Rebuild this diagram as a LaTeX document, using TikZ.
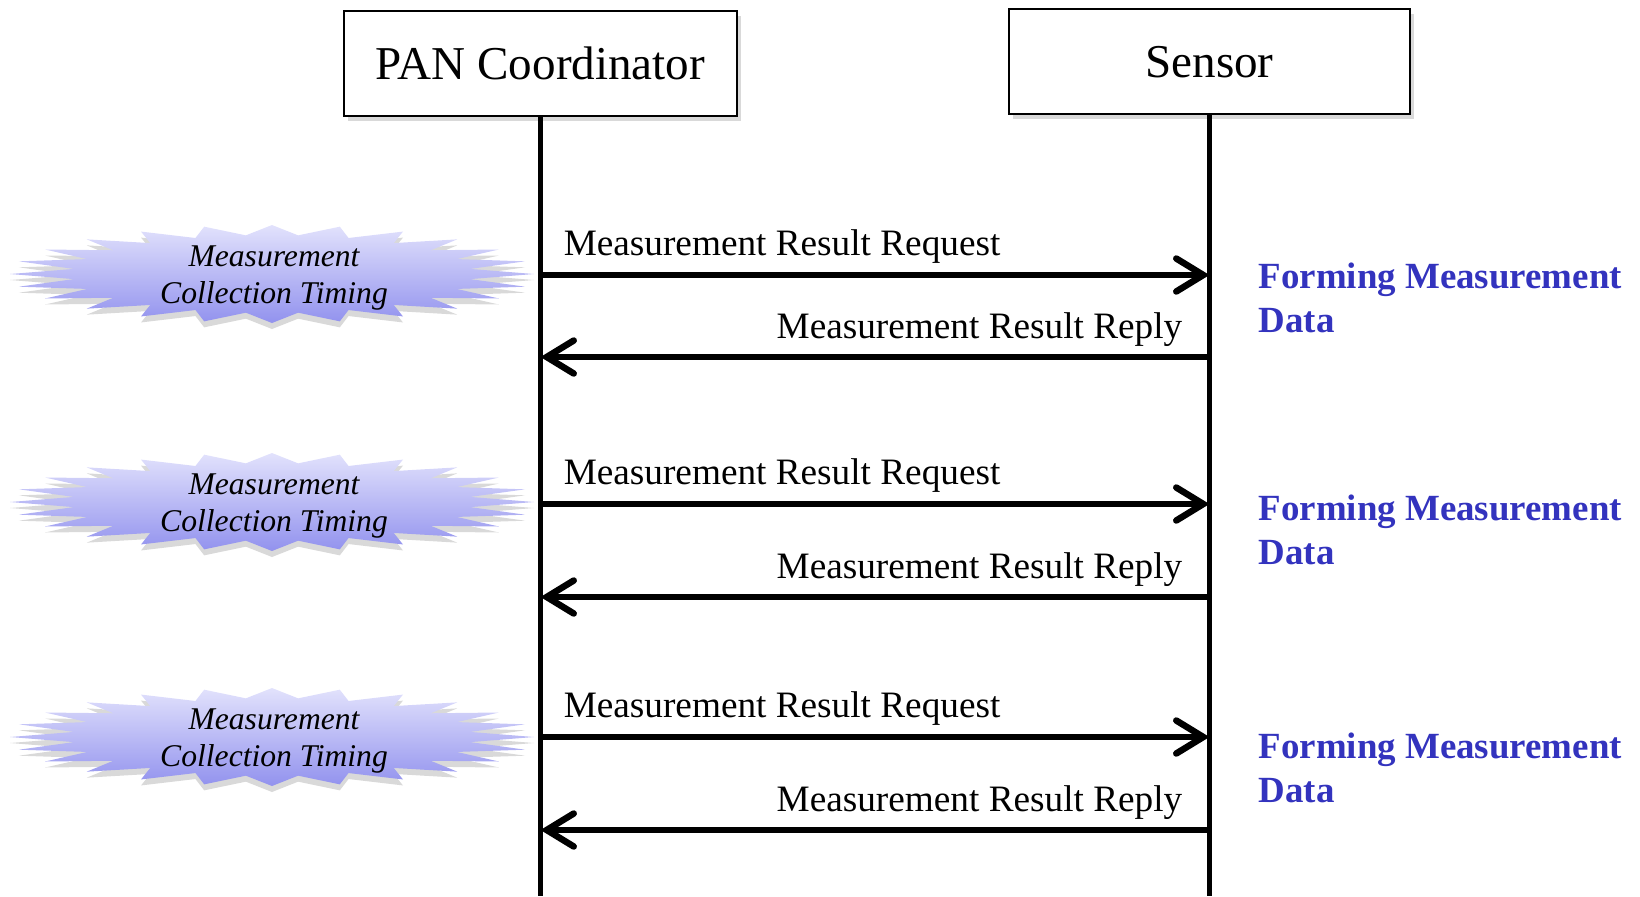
\documentclass[tikz,border=0pt]{standalone}
\usepackage{fontspec}
\setmainfont{Liberation Serif}
\usetikzlibrary{arrows.meta,shadows}

\definecolor{burstTop}{RGB}{226,226,252}
\definecolor{burstBot}{RGB}{146,146,238}
\definecolor{formBlue}{RGB}{51,51,190}

\tikzset{
  party/.style={draw, line width=0.2mm, fill=white, minimum height=10.45mm,
    font=\fontsize{13.4}{16}\selectfont,
    drop shadow={opacity=0.3, shadow xshift=0.4mm, shadow yshift=-0.5mm}},
  lifeline/.style={line width=0.5mm},
  msg/.style={line width=0.65mm, -{Straight Barb[length=2.7mm, width=3.3mm, line cap=round]}},
  msglabel/.style={font=\fontsize{10.6}{12.7}\selectfont, inner sep=0pt},
  burst/.style={top color=burstTop, bottom color=burstBot, draw=none,
    drop shadow={opacity=0.3, shadow xshift=0mm, shadow yshift=-0.6mm}},
  bursttext/.style={align=center, font=\fontsize{9}{10.8}\selectfont\itshape, inner sep=0pt},
  forming/.style={align=left, text=formBlue, font=\fontsize{10.5}{12.5}\selectfont\bfseries,
    inner sep=0pt, anchor=west}
}

% spiky star around a coordinate
\newcommand\tbBurst[1]{%
  \path[burst, shift={(#1)}] (262,0)
    \foreach \a in {15,30,...,345} {-- ({200*cos(\a-7.5)},{39*sin(\a-7.5)}) -- ({262*cos(\a)},{49*sin(\a)})}
    -- ({200*cos(352.5)},{39*sin(352.5)}) -- cycle;}

\begin{document}
\begin{tikzpicture}[x=0.1mm, y=0.1mm]
    \useasboundingbox (0,0) rectangle (1640,-896);

    % the two parties
    \node[party, minimum width=39.3mm] (pan) at (540.5,-63.7) {PAN Coordinator};
    \node[party, minimum width=40.1mm] (sen) at (1209.5,-61.7) {Sensor};
    \coordinate (panEnd) at (540.5,-896);
    \coordinate (senEnd) at (1209.5,-896);
    \draw[lifeline] (pan.south) -- (panEnd);
    \draw[lifeline] (sen.south) -- (senEnd);

    % three rounds of request / reply
    \foreach \i/\rq/\rp/\c/\f in {1/275/357/274/298, 2/504/597/502/530, 3/737/830/737/768}{
        \coordinate (cb\i) at (272,-\c);
        \tbBurst{cb\i}
        \node[bursttext] (tim\i) at (274,-\c-4) {Measurement\\Collection Timing};

        \coordinate (qa\i) at (pan |- 0,-\rq);
        \coordinate (qb\i) at (sen |- 0,-\rq);
        \coordinate (pa\i) at (pan |- 0,-\rp);
        \coordinate (pb\i) at (sen |- 0,-\rp);
        \draw[msg] (qa\i) -- (qb\i)
            node[msglabel, pos=0, anchor=base west, xshift=2mm, yshift=2mm] {Measurement Result Request};
        \draw[msg] (pb\i) -- (pa\i)
            node[msglabel, pos=0, anchor=base east, xshift=-2.4mm, yshift=1.9mm] {Measurement Result Reply};

        \node[forming] (form\i) at (1258,-\f) {Forming Measurement\\Data};
    }
\end{tikzpicture}
\end{document}
